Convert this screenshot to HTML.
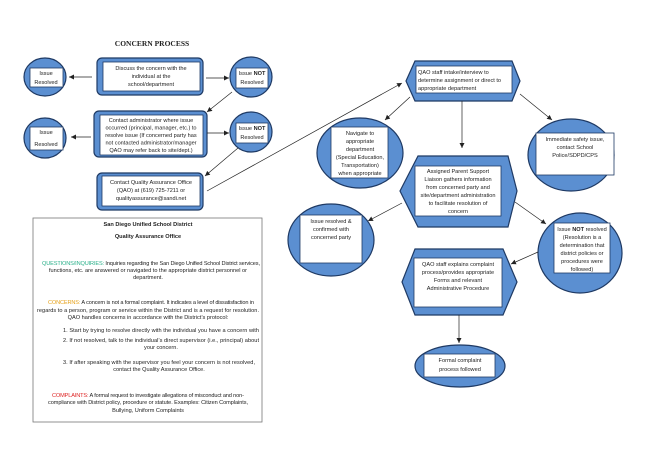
<!DOCTYPE html>
<html><head><meta charset="utf-8"><style>
html,body{margin:0;padding:0;background:#fff;width:655px;height:463px;overflow:hidden}
svg{display:block}
text{font-family:"Liberation Sans",sans-serif;font-size:5.6px;fill:#222}
.b{fill:#5b8fd1;stroke:#1f3a64;stroke-width:1.2}
.w{fill:#fff;stroke:#1f3a64;stroke-width:0.8}
.l{stroke:#222;stroke-width:0.7;fill:none;marker-end:url(#a)}
</style></head><body>
<svg width="655" height="463" viewBox="0 0 655 463" xmlns="http://www.w3.org/2000/svg">
<defs><marker id="a" markerWidth="6" markerHeight="6" refX="5" refY="3" orient="auto" markerUnits="userSpaceOnUse"><path d="M0,0.5 L5,3 L0,5.5z" fill="#222"/></marker></defs>
<text x="152" y="46" text-anchor="middle" style="font-family:'Liberation Serif',serif;font-size:7.5px;font-weight:bold">CONCERN PROCESS</text>

<ellipse class="b" cx="45" cy="77" rx="21" ry="19"/>
<rect class="w" x="30" y="68" width="33" height="19"/>
<text x="46" y="75" text-anchor="middle">Issue</text><text x="46" y="84" text-anchor="middle">Resolved</text>
<rect class="b" x="97" y="58" width="106" height="37" rx="5"/>
<rect class="w" x="103" y="62" width="97" height="29"/>
<text x="151" y="70" text-anchor="middle">Discuss the concern with the</text>
<text x="151" y="78" text-anchor="middle">individual at the</text>
<text x="151" y="86" text-anchor="middle">school/department</text>
<ellipse class="b" cx="251" cy="77" rx="21" ry="20"/>
<rect class="w" x="236" y="68" width="32" height="20"/>
<text x="252" y="75" text-anchor="middle">Issue <tspan font-weight="bold">NOT</tspan></text><text x="252" y="84" text-anchor="middle">Resolved</text>
<line class="l" x1="92" y1="77" x2="69" y2="77"/>
<line class="l" x1="206" y1="78" x2="229" y2="78"/>
<line class="l" x1="232" y1="92" x2="207" y2="112"/>

<ellipse class="b" cx="45" cy="138" rx="21" ry="20"/>
<rect class="w" x="30" y="127" width="33" height="23"/>
<text x="46" y="134" text-anchor="middle">Issue</text><text x="46" y="146" text-anchor="middle">Resolved</text>
<rect class="b" x="94" y="111" width="113" height="46" rx="5"/>
<rect class="w" x="100" y="115" width="103" height="40"/>
<text x="151" y="122" text-anchor="middle">Contact administrator where issue</text>
<text x="151" y="129.5" text-anchor="middle">occurred (principal, manager, etc.) to</text>
<text x="151" y="137" text-anchor="middle">resolve issue (If concerned party has</text>
<text x="151" y="144.5" text-anchor="middle">not contacted administrator/manager</text>
<text x="151" y="152" text-anchor="middle">QAO may refer back to site/dept.)</text>
<ellipse class="b" cx="251" cy="132" rx="21" ry="20"/>
<rect class="w" x="236" y="123" width="32" height="20"/>
<text x="252" y="130" text-anchor="middle">Issue <tspan font-weight="bold">NOT</tspan></text><text x="252" y="139" text-anchor="middle">Resolved</text>
<line class="l" x1="91" y1="137" x2="71" y2="137"/>
<line class="l" x1="207" y1="133" x2="229" y2="133"/>
<line class="l" x1="238" y1="148" x2="205" y2="176"/>

<rect class="b" x="97" y="173" width="106" height="37" rx="5"/>
<rect class="w" x="102" y="176" width="98" height="30"/>
<text x="151" y="184" text-anchor="middle">Contact Quality Assurance Office</text>
<text x="151" y="192" text-anchor="middle">(QAO) at (619) 725-7211 or</text>
<text x="151" y="200" text-anchor="middle">qualityassurance@sandi.net</text>
<line class="l" x1="207" y1="191" x2="402" y2="83"/>

<rect x="33" y="218" width="229" height="204" fill="#fff" stroke="#777" stroke-width="0.8"/>
<g text-anchor="middle">
<text x="148" y="226" font-weight="bold">San Diego Unified School District</text>
<text x="148" y="238" font-weight="bold">Quality Assurance Office</text>
<text x="151" y="265" textLength="218"><tspan fill="#2bb08a">QUESTIONS/INQUIRIES:</tspan> Inquiries regarding the San Diego Unified School District services,</text>
<text x="148" y="272">functions, etc. are answered or navigated to the appropriate district personnel or</text>
<text x="148" y="279">department.</text>
<text x="151" y="304" textLength="206"><tspan fill="#e6a21a">CONCERNS:</tspan> A concern is not a formal complaint. It indicates a level of dissatisfaction in</text>
<text x="148" y="312" textLength="222">regards to a person, program or service within the District and is a request for resolution.</text>
<text x="148" y="319">QAO handles concerns in accordance with the District’s protocol:</text>
<text x="161" y="332" textLength="196">1. Start by trying to resolve directly with the individual you have a concern with</text>
<text x="161" y="342" textLength="196">2. If not resolved, talk to the individual’s direct supervisor (i.e., principal) about</text>
<text x="161" y="349">your concern.</text>
<text x="159" y="364" textLength="192">3. If after speaking with the supervisor you feel your concern is not resolved,</text>
<text x="159" y="371">contact the Quality Assurance Office.</text>
<text x="148" y="397" textLength="192"><tspan fill="#d22">COMPLAINTS:</tspan> A formal request to investigate allegations of misconduct and non-</text>
<text x="148" y="404" textLength="200">compliance with District policy, procedure or statute. Examples: Citizen Complaints,</text>
<text x="148" y="412">Bullying, Uniform Complaints</text>
</g>

<polygon class="b" points="406,81 415,61 512,61 520,81 512,101 415,101"/>
<rect class="w" x="416" y="66" width="96" height="27"/>
<text x="418" y="74">QAO staff intake/interview to</text>
<text x="418" y="82">determine assignment or direct to</text>
<text x="418" y="90">appropriate department</text>
<line class="l" x1="410" y1="97" x2="385" y2="120"/>
<line class="l" x1="520" y1="94" x2="552" y2="120"/>
<line class="l" x1="462" y1="101" x2="462" y2="148"/>

<ellipse class="b" cx="360" cy="153" rx="43" ry="35"/>
<rect class="w" x="331" y="127" width="57" height="51"/>
<g text-anchor="middle">
<text x="360" y="135">Navigate to</text><text x="360" y="143">appropriate</text><text x="360" y="151">department</text>
<text x="360" y="159">(Special Education,</text><text x="360" y="167">Transportation)</text><text x="360" y="175">when appropriate</text>
</g>
<ellipse class="b" cx="571" cy="155" rx="43" ry="36"/>
<rect class="w" x="536" y="133" width="78" height="42"/>
<g text-anchor="middle">
<text x="575" y="141">Immediate safety issue,</text><text x="575" y="149">contact School</text><text x="575" y="157">Police/SDPD/CPS</text>
</g>

<polygon class="b" points="400,191 418,156 508,156 517,191 508,227 418,227"/>
<rect class="w" x="415" y="166" width="86" height="50"/>
<g text-anchor="middle">
<text x="458" y="173">Assigned Parent Support</text><text x="458" y="181">Liaison gathers information</text>
<text x="458" y="189">from concerned party and</text><text x="458" y="197">site/department administration</text>
<text x="458" y="205">to facilitate resolution of</text><text x="458" y="213">concern</text>
</g>
<line class="l" x1="402" y1="203" x2="368" y2="221"/>
<line class="l" x1="515" y1="202" x2="546" y2="224"/>

<ellipse class="b" cx="331" cy="240" rx="43" ry="36"/>
<rect class="w" x="300" y="215" width="62" height="48"/>
<g text-anchor="middle">
<text x="331" y="223">Issue resolved &amp;</text><text x="331" y="231">confirmed with</text><text x="331" y="239">concerned party</text>
</g>
<ellipse class="b" cx="580" cy="253" rx="42" ry="40"/>
<rect class="w" x="554" y="223" width="56" height="50"/>
<g text-anchor="middle">
<text x="582" y="231">Issue <tspan font-weight="bold">NOT</tspan> resolved</text><text x="582" y="239">(Resolution is a</text>
<text x="582" y="247">determination that</text><text x="582" y="255">district policies or</text>
<text x="582" y="263">procedures were</text><text x="582" y="271">followed)</text>
</g>
<line class="l" x1="538" y1="252" x2="511" y2="264"/>

<polygon class="b" points="402,282 415,249 503,249 517,282 503,315 415,315"/>
<rect class="w" x="414" y="258" width="88" height="49"/>
<g text-anchor="middle">
<text x="458" y="266">QAO staff explains complaint</text><text x="458" y="274">process/provides appropriate</text>
<text x="458" y="282">Forms and relevant</text><text x="458" y="290">Administrative Procedure</text>
</g>
<line class="l" x1="459" y1="315" x2="459" y2="343"/>
<ellipse class="b" cx="460" cy="366" rx="45" ry="21"/>
<rect class="w" x="424" y="354" width="71" height="23"/>
<g text-anchor="middle"><text x="460" y="362">Formal complaint</text><text x="460" y="371">process followed</text></g>
</svg>
</body></html>
